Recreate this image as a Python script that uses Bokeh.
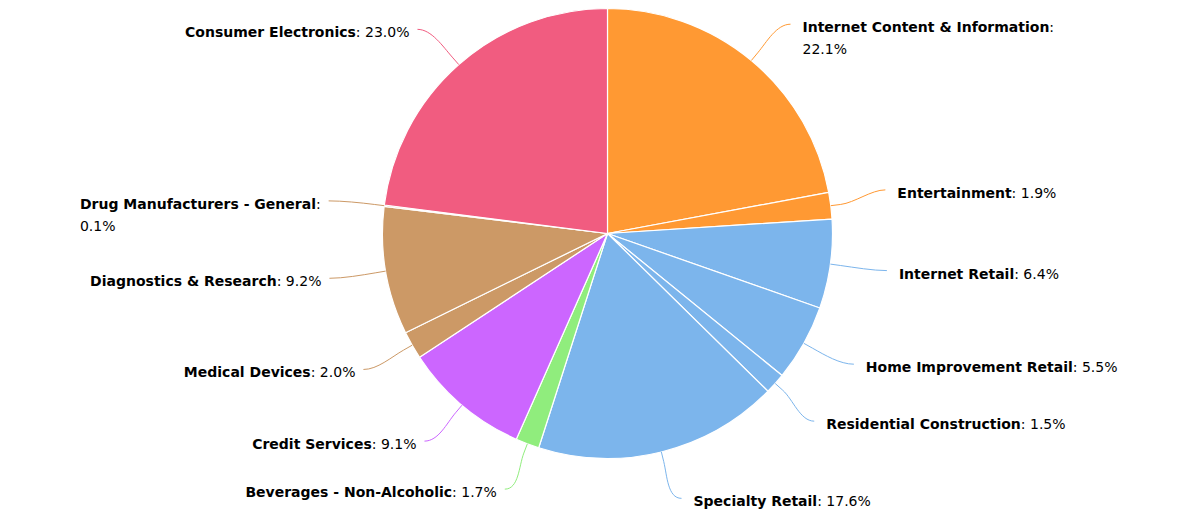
import math
from bokeh.plotting import figure
from bokeh.models import Range1d, ColumnDataSource, InlineStyleSheet
from bokeh.core.properties import value
from bokeh.embed import file_html
from bokeh.resources import INLINE

# ---------------- data ----------------
categories = [
    "Internet Content & Information", "Entertainment", "Internet Retail",
    "Home Improvement Retail", "Residential Construction", "Specialty Retail",
    "Beverages - Non-Alcoholic", "Credit Services", "Medical Devices",
    "Diagnostics & Research", "Drug Manufacturers - General", "Consumer Electronics",
]
shares = [22.1, 1.9, 6.4, 5.5, 1.5, 17.6, 1.7, 9.1, 2.0, 9.2, 0.1, 23.0]
colors = [
    "#FF9933", "#FF9933", "#7CB5EC", "#7CB5EC", "#7CB5EC", "#7CB5EC",
    "#90ED7D", "#CC66FF", "#CC9966", "#CC9966", "#CC9966", "#F15C80",
]
value_labels = ["%.1f%%" % v for v in shares]

# ---------------- layout (pixels, y down) ----------------
W, H = 1187, 515
CX, CY, R = 607, 233, 225
LABEL_R = 280
FS = 14
nudges = [(4, 6), (0, -9), (2, -1), (2, -6), (-2, 1), (7, -7),
          (-3, -6), (-2, -6), (-1, -3), (-2, -2), (-1, 2), (-5, 6)]
wrapped = {0, 10}

BOLD = {'A': .774, 'B': .762, 'C': .734, 'D': .830, 'E': .683, 'G': .821, 'H': .837,
        'I': .372, 'M': .995, 'N': .837, 'R': .770, 'S': .720, 'a': .675, 'c': .593,
        'd': .716, 'e': .678, 'f': .435, 'g': .716, 'h': .712, 'i': .343, 'l': .343,
        'm': 1.042, 'n': .712, 'o': .687, 'p': .716, 'r': .493, 's': .595, 't': .478,
        'u': .712, 'v': .652, 'y': .652, ' ': .348, '&': .872, '-': .415, ':': .400}
NORM = {'0': .636, '1': .636, '2': .636, '3': .636, '4': .636, '5': .636, '6': .636,
        '7': .636, '8': .636, '9': .636, '.': .318, '%': .950, ':': .337, ' ': .318}


def wb(s):
    return sum(BOLD.get(c, .68) for c in s) * FS


def wn(s):
    return sum(NORM.get(c, .6) for c in s) * FS


def fy(y):  # pixel y (down) -> data y (up)
    return H - y


p = figure(width=W, height=H, x_range=Range1d(0, W), y_range=Range1d(0, H),
           output_backend="svg", toolbar_location=None,
           x_axis_location=None, y_axis_location=None, min_border=0)
p.outline_line_color = None
p.xgrid.visible = False
p.ygrid.visible = False
p.background_fill_color = "white"
p.border_fill_color = "white"
p.stylesheets = [InlineStyleSheet(css="text { letter-spacing: 2px; }")]

total = sum(shares)
starts, ends, mids = [], [], []
acc = 0.0
for v in shares:
    a0 = acc / total
    acc += v
    a1 = acc / total
    starts.append(math.pi / 2 - 2 * math.pi * a0)
    ends.append(math.pi / 2 - 2 * math.pi * a1)
    mids.append(2 * math.pi * (a0 + a1) / 2)  # clockwise from top

src = ColumnDataSource(dict(start=starts, end=ends, color=colors))
p.wedge(x=CX, y=fy(CY), radius=R, start_angle="start", end_angle="end",
        direction="clock", fill_color="color", line_color="white", line_width=1.2,
        source=src)

# connectors + labels
bz = dict(x0=[], y0=[], x1=[], y1=[], cx0=[], cy0=[], cx1=[], cy1=[], color=[])
sg = dict(x0=[], y0=[], x1=[], y1=[], color=[])
tb = dict(x=[], y=[], text=[], align=[])
tn = dict(x=[], y=[], text=[], align=[])

for i, th in enumerate(mids):
    dx, dy = math.sin(th), -math.cos(th)
    right = dx >= 0
    s = 1 if right else -1
    Lx = CX + LABEL_R * dx + nudges[i][0]
    Ly = CY + LABEL_R * dy + nudges[i][1]
    Bx, By = CX + (R + 10) * dx, CY + (R + 10) * dy
    Ex, Ey = CX + R * dx, CY + R * dy
    Cx1, Cy1 = CX + (R + 24) * dx, CY + (R + 24) * dy
    bz["x0"].append(Lx); bz["y0"].append(fy(Ly))
    bz["x1"].append(Bx); bz["y1"].append(fy(By))
    bz["cx0"].append(Lx - s * 14); bz["cy0"].append(fy(Ly))
    bz["cx1"].append(Cx1); bz["cy1"].append(fy(Cy1))
    bz["color"].append(colors[i])
    sg["x0"].append(Bx); sg["y0"].append(fy(By))
    sg["x1"].append(Ex); sg["y1"].append(fy(Ey))
    sg["color"].append(colors[i])

    ty = Ly + 3
    name = categories[i]
    val = ": " + value_labels[i]
    if i in wrapped:
        if right:
            x0 = Lx + 12
        else:
            x0 = Lx - 8 - wb(name) - wn(":")
        tb["x"].append(x0); tb["y"].append(fy(ty)); tb["text"].append(name); tb["align"].append("left")
        tn["x"].append(x0 + wb(name)); tn["y"].append(fy(ty)); tn["text"].append(":"); tn["align"].append("left")
        tn["x"].append(x0); tn["y"].append(fy(ty + 22)); tn["text"].append(value_labels[i]); tn["align"].append("left")
    elif right:
        x0 = Lx + 12
        tb["x"].append(x0); tb["y"].append(fy(ty)); tb["text"].append(name); tb["align"].append("left")
        tn["x"].append(x0 + wb(name)); tn["y"].append(fy(ty)); tn["text"].append(val); tn["align"].append("left")
    else:
        xr = Lx - 8
        tn["x"].append(xr); tn["y"].append(fy(ty)); tn["text"].append(val); tn["align"].append("right")
        tb["x"].append(xr - wn(val)); tb["y"].append(fy(ty)); tb["text"].append(name); tb["align"].append("right")

p.bezier(x0="x0", y0="y0", x1="x1", y1="y1", cx0="cx0", cy0="cy0", cx1="cx1", cy1="cy1",
         line_color="color", line_width=1, source=ColumnDataSource(bz))
p.segment(x0="x0", y0="y0", x1="x1", y1="y1", line_color="color", line_width=1,
          source=ColumnDataSource(sg))
p.text(x="x", y="y", text="text", text_align="align", text_baseline="middle",
       text_font=value("DejaVu Sans"), text_font_style="bold", text_font_size="%dpx" % FS,
       text_color="#000000", source=ColumnDataSource(tb))
p.text(x="x", y="y", text="text", text_align="align", text_baseline="middle",
       text_font=value("DejaVu Sans"), text_font_style="normal", text_font_size="%dpx" % FS,
       text_color="#000000", source=ColumnDataSource(tn))

open("out.html", "w").write(file_html(p, INLINE))
